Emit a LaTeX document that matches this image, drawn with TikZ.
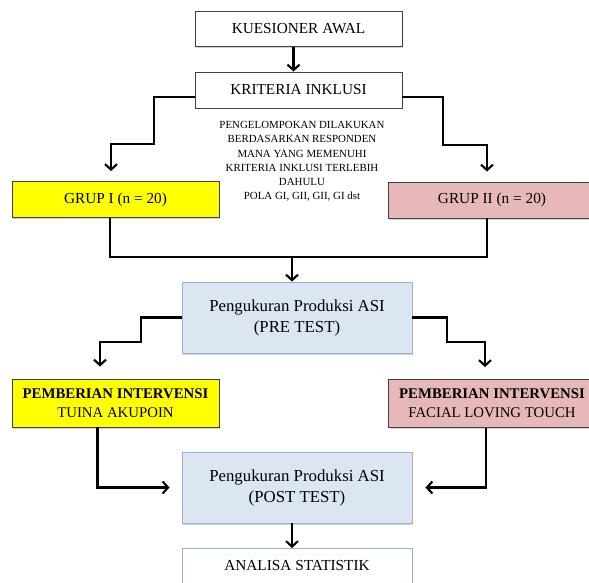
\documentclass[tikz,border=0pt]{standalone}
\usepackage{fontspec}
\setmainfont{Liberation Serif}
\usepackage{tikz}
\usetikzlibrary{positioning,arrows.meta,calc,shadows}

\definecolor{boxyellow}{HTML}{FFFF00}
\definecolor{boxpink}{HTML}{E6B9B8}
\definecolor{boxblue}{HTML}{DCE6F2}
\definecolor{edgeblue}{HTML}{95B3D7}

\begin{document}
\begin{tikzpicture}[
  x=1pt, y=-1pt,
  >={Straight Barb[length=5.5pt,width=12pt]},
  basebox/.style={draw=black!75, line width=0.9pt, minimum width=207pt, inner sep=0pt, align=center,
    font=\fontsize{15.3}{19}\selectfont, drop shadow={shadow xshift=1pt, shadow yshift=-1.5pt, opacity=.35}},
  plainbox/.style={basebox, fill=white, minimum height=35pt},
  grupbox/.style={basebox, minimum height=36pt},
  intbox/.style={basebox, minimum height=48pt, font=\fontsize{14.8}{19}\selectfont},
  ukurbox/.style={basebox, draw=edgeblue, fill=boxblue, minimum width=230pt, minimum height=71pt,
    font=\fontsize{16.8}{21}\selectfont},
  flowline/.style={draw=black, line width=2.1pt},
  flowarr/.style={flowline, ->}
]
  \useasboundingbox (0,0) rectangle (589,583);

  \node[plainbox] (kuesioner) at (298.5,29) {KUESIONER AWAL};
  \node[plainbox, minimum height=36pt] (kriteria) at (298.5,90) {KRITERIA INKLUSI};
  \node[align=center, inner sep=0pt, font=\fontsize{10.9}{14.2}\selectfont] (catatan) at (302,161.5)
    {PENGELOMPOKAN DILAKUKAN\\ BERDASARKAN RESPONDEN\\ MANA YANG MEMENUHI\\
     KRITERIA INKLUSI TERLEBIH\\ DAHULU\\ POLA GI, GII, GII, GI dst};
  \node[grupbox, fill=boxyellow] (grup1) at (115.5,199.5) {GRUP I (n = 20)};
  \node[grupbox, fill=boxpink] (grup2) at (492,200) {GRUP II (n = 20)};
  \node[ukurbox] (pre) at (297,317.5) {Pengukuran Produksi ASI\\ (PRE TEST)};
  \node[intbox, fill=boxyellow] (int1) at (115.5,403) {\textbf{PEMBERIAN INTERVENSI}\\ TUINA AKUPOIN};
  \node[intbox, fill=boxpink] (int2) at (492,403.5) {\textbf{PEMBERIAN INTERVENSI}\\ FACIAL LOVING TOUCH};
  \node[ukurbox] (post) at (297,487.5) {Pengukuran Produksi ASI\\ (POST TEST)};
  \node[ukurbox, fill=white, anchor=north, font=\fontsize{15.3}{19}\selectfont,
    minimum height=0pt, text height=22pt, text depth=30pt] (analisa) at (297,548) {ANALISA STATISTIK};

  % corners of the stepped connectors
  \coordinate (kl) at (154,144);
  \coordinate (kr) at (443,145);
  \coordinate (mg) at (292,257);
  \coordinate (pl) at (141,342);
  \coordinate (pr) at (447,342);

  \draw[flowarr] ([xshift=-5pt]kuesioner.south) -- ([xshift=-5pt]kriteria.north);
  \draw[flowarr, shorten >=10pt] (kriteria.west) ++(0,7) -| (kl) -| ([xshift=-4.5pt]grup1.north);
  \draw[flowarr, shorten >=10pt] (kriteria.east) ++(0,7) -| (kr) -| ([xshift=-5pt]grup2.north);
  \draw[flowline] ([xshift=-5.5pt]grup1.south) |- (mg);
  \draw[flowline] ([xshift=-5pt]grup2.south) |- (mg);
  \draw[flowarr] (mg) -- (mg |- pre.north);
  \draw[flowarr, shorten >=12pt] (pre.west) -| (pl) -| ([xshift=-15.5pt]int1.north);
  \draw[flowarr, shorten >=12pt] (pre.east) -| (pr) -| ([xshift=-7pt]int2.north);
  \draw[flowarr, shorten >=12pt] ([xshift=-18pt]int1.south) |- (post.west);
  \draw[flowarr, shorten >=13pt] ([xshift=-6pt]int2.south) |- (post.east);
  \draw[flowarr] ([xshift=-5pt]post.south) -- ([xshift=-5pt]analisa.north);
\end{tikzpicture}
\end{document}
